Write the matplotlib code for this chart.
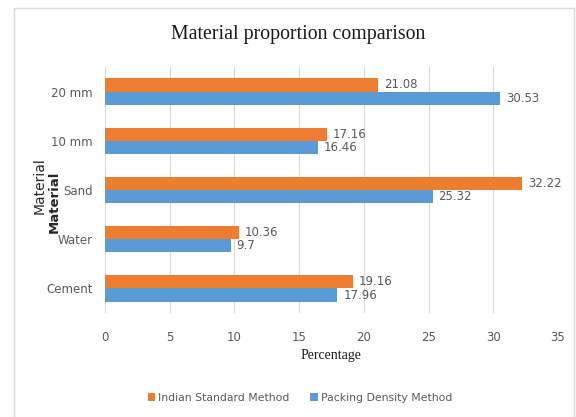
import matplotlib
matplotlib.use("Agg")
import matplotlib.pyplot as plt
import numpy as np
from matplotlib.patches import Rectangle

materials = ["Cement", "Water", "Sand", "10 mm", "20 mm"]
indian_standard = [19.16, 10.36, 32.22, 17.16, 21.08]
packing_density = [17.96, 9.7, 25.32, 16.46, 30.53]
indian_labels = ["19.16", "10.36", "32.22", "17.16", "21.08"]
packing_labels = ["17.96", "9.7", "25.32", "16.46", "30.53"]
x_ticks = [0, 5, 10, 15, 20, 25, 30, 35]

orange = "#ED7D31"
blue = "#5B9BD5"
gray_text = "#595959"

fig = plt.figure(figsize=(5.76, 4.17), dpi=100)
fig.patch.set_facecolor("white")

# light frame around the chart
fig.patches.append(Rectangle((14 / 576, -0.01), (574 - 14) / 576, 1.01 - 8 / 417,
                             transform=fig.transFigure, fill=False,
                             edgecolor="#D9D9D9", linewidth=1.0))

ax = fig.add_axes([105 / 576, 1 - 313 / 417, (558 - 105) / 576, (313 - 67) / 417])

y = np.arange(len(materials))
h = 0.27
ax.barh(y + h / 2, indian_standard, height=h, color=orange, zorder=3,
        label="Indian Standard Method")
ax.barh(y - h / 2, packing_density, height=h, color=blue, zorder=3,
        label="Packing Density Method")

for yi, v, s in zip(y, indian_standard, indian_labels):
    ax.text(v + 0.45, yi + h / 2, s, va="center", ha="left", fontsize=8.5,
            color=gray_text)
for yi, v, s in zip(y, packing_density, packing_labels):
    ax.text(v + 0.45, yi - h / 2, s, va="center", ha="left", fontsize=8.5,
            color=gray_text)

ax.set_xlim(0, 35)
ax.set_ylim(-0.5, len(materials) - 0.5)
ax.set_xticks(x_ticks)
ax.set_xticklabels([str(t) for t in x_ticks], fontsize=8.5, color=gray_text)
ax.set_yticks(y)
ax.set_yticklabels(materials, fontsize=8.5, color=gray_text)
ax.tick_params(length=0, pad=13)
ax.tick_params(axis="y", pad=9)
ax.grid(axis="x", color="#D9D9D9", linewidth=0.8, zorder=0)
for sp in ax.spines.values():
    sp.set_visible(False)

fig.text(298 / 576, 1 - 35 / 417, "Material proportion comparison",
         ha="center", va="center", fontsize=14.3, family="Liberation Serif",
         color="#1a1a1a")
fig.text(331 / 576, 1 - 356 / 417, "Percentage", ha="center", va="center",
         fontsize=10, family="Liberation Serif", color="#1a1a1a")

# y axis title, drawn twice
fig.text(40 / 576, 1 - 186 / 417, "Material", rotation=90, ha="center",
         va="center", fontsize=10, color="#262626")
fig.text(54 / 576, 1 - 202 / 417, "Material", rotation=90, ha="center",
         va="center", fontsize=9.5, color="#262626", fontweight="bold")

leg = fig.legend(loc="center", bbox_to_anchor=(300 / 576, 1 - 398 / 417), ncol=2,
                 frameon=False, fontsize=7.8, handlelength=0.7, handleheight=0.7,
                 handletextpad=0.3, columnspacing=1.9)
for t in leg.get_texts():
    t.set_color(gray_text)

fig.savefig("out.png", dpi=100, facecolor="white")
